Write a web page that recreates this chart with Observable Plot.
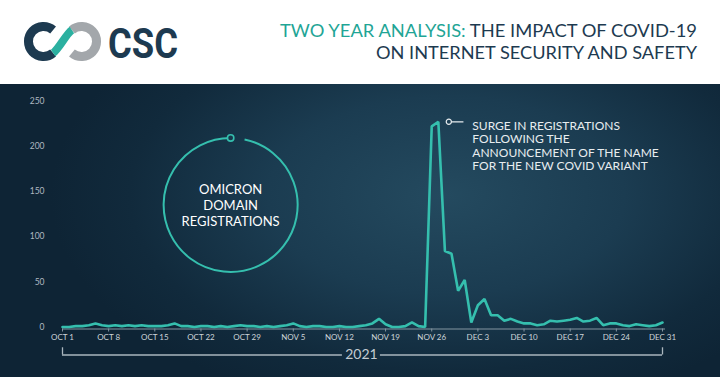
<!DOCTYPE html>
<html><head><meta charset="utf-8">
<script src="https://cdn.jsdelivr.net/npm/d3@7"></script>
<script src="https://cdn.jsdelivr.net/npm/@observablehq/plot@0.6"></script>
<style>
html,body{margin:0;padding:0;width:720px;height:377px;overflow:hidden;font-family:Lato,"Open Sans",sans-serif;background:#10283a;}
#header{position:relative;width:720px;height:84px;background:#ffffff;}
#header svg{position:absolute;left:0;top:0;}
#chart{position:relative;width:720px;height:293px;
 background:radial-gradient(ellipse 55% 75% at 62% 38%, #244a5f 0%, #1b3c51 45%, #112a3c 80%, #0e2435 100%);}
#chart svg{display:block;}
</style></head><body>
<div id="header">
<svg width="720" height="84" viewBox="0 0 720 84">
  <g transform="translate(18.5,13.5)" fill="none" stroke-linecap="butt">
    <path d="M34.6,16.5 A15,15 0 1 0 34.6,39.5" stroke="#1d3a50" stroke-width="9"/>
    <path d="M53.4,16.5 A15,15 0 1 1 53.4,39.5" stroke="#a3a7ab" stroke-width="9"/>
    <path d="M34.6,39.5 C40,36 48,20 53.4,16.5" stroke="#2bb0a0" stroke-width="8"/>
  </g>
  <text x="108" y="58" font-family="Roboto" font-weight="700" font-size="42" fill="#1d3a50" textLength="70" lengthAdjust="spacingAndGlyphs">CSC</text>
  <text x="280" y="37" font-family="Lato" font-size="17" fill="#1d3a50" textLength="417" lengthAdjust="spacingAndGlyphs"><tspan fill="#1fa596">TWO YEAR ANALYSIS:</tspan> THE IMPACT OF COVID-19</text>
  <text x="376" y="58.5" font-family="Lato" font-size="17" fill="#1d3a50" textLength="321" lengthAdjust="spacingAndGlyphs">ON INTERNET SECURITY AND SAFETY</text>
</svg>
</div>
<div id="chart"></div>
<script>
// ---- data ----
const startDate = "2021-10-01";
const values = [
  0, 0, 1, 1, 2, 4, 2, 1, 2, 1,
  2, 1, 2, 1, 1, 1, 2, 4, 1, 1,
  0, 1, 1, 0, 1, 0, 1, 2, 1, 1,
  0, 1, 0, 1, 2, 4, 1, 0, 1, 1,
  0, 0, 1, 0, 0, 1, 2, 4, 9, 3,
  0, 0, 1, 5, 1, 0, 222, 227, 84, 81,
  40, 52, 5, 24, 31, 13, 13, 7, 9, 6,
  4, 4, 2, 3, 7, 6, 7, 8, 10, 6,
  7, 10, 2, 4, 4, 2, 1, 3, 2, 1,
  2, 5
];
const tickDates = ["2021-10-01","2021-10-08","2021-10-15","2021-10-22","2021-10-29","2021-11-05","2021-11-12",
                   "2021-11-19","2021-11-26","2021-12-03","2021-12-10","2021-12-17","2021-12-24","2021-12-31"];
const tickLabels = ["OCT 1","OCT 8","OCT 15","OCT 22","OCT 29","NOV 5","NOV 12",
                    "NOV 19","NOV 26","DEC 3","DEC 10","DEC 17","DEC 24","DEC 31"];
const yTicks = [0, 50, 100, 150, 200, 250];
const circleLabel = ["OMICRON", "DOMAIN", "REGISTRATIONS"];
const surgeLabel = ["SURGE IN REGISTRATIONS", "FOLLOWING THE", "ANNOUNCEMENT OF THE NAME", "FOR THE NEW COVID VARIANT"];
const yearLabel = "2021";
const yearSpan = ["2021-10-01", "2021-12-31"];
const yearLabelAt = "2021-11-15T08:00Z";
const circleAt = {date: "2021-10-26T12:00Z", value: 135};
const peakAt = {date: "2021-11-27", value: 227};

// ---- build ----
const teal = "#35bfae";
const start = new Date(startDate);
const series = values.map((v, i) => ({date: d3.utcDay.offset(start, i), value: v}));
const ticks = tickDates.map(d => new Date(d));
const labelMap = new Map(ticks.map((d, i) => [+d, tickLabels[i]]));
const y0 = new Date(yearSpan[0]), y1 = new Date(yearSpan[1]), yl = new Date(yearLabelAt);

const ringSymbol = {
  draw(ctx, size) {
    const r = Math.sqrt(size / Math.PI);
    const a0 = -Math.PI / 2, a1 = -78 * Math.PI / 180;
    ctx.moveTo(r * Math.cos(a0), r * Math.sin(a0));
    ctx.arc(0, 0, r, a0, a1, true);
  }
};
const pinSymbol = {
  draw(ctx, size) {
    const r = Math.sqrt(size / Math.PI);
    ctx.moveTo(r, 0);
    ctx.arc(0, 0, r, 0, 2 * Math.PI);
    ctx.moveTo(r, 0);
    ctx.lineTo(r + 12, 0);
  }
};

const plot = Plot.plot({
  width: 720, height: 293,
  marginTop: 16.5, marginBottom: 50.5, marginLeft: 62, marginRight: 58,
  style: {background: "transparent", fontFamily: "Lato, sans-serif", color: "#c9d1d7", overflow: "visible"},
  x: {type: "utc", domain: [y0, y1]},
  y: {domain: [0, 250]},
  marks: [
    Plot.axisY(yTicks, {tickSize: 0, tickPadding: 18, fill: "#aeb9c0", fontSize: 8.5, label: null}),
    Plot.ruleY([0], {x1: y0, x2: y1, dy: 2, stroke: "#8495a1", strokeWidth: 1.2, insetRight: -3}),
    Plot.axisX(ticks, {tickFormat: d => labelMap.get(+d), tickSize: 3, tickPadding: 2, dy: 2,
                       stroke: "#8495a1", fill: "#cdd4d9", fontSize: 8, label: null}),
    Plot.lineY(series, {x: "date", y: "value", stroke: teal, strokeWidth: 2.6, strokeLinejoin: "miter"}),
    // year bracket
    Plot.ruleY([0], {x1: y0, x2: yl, dy: 28, insetRight: 19, stroke: "#aab6be", strokeWidth: 1.3}),
    Plot.ruleY([0], {x1: yl, x2: y1, dy: 28, insetLeft: 19, stroke: "#aab6be", strokeWidth: 1.3}),
    Plot.ruleX([y0, y1], {y1: 0, y2: 8, dy: 28, stroke: "#aab6be", strokeWidth: 1.3}),
    Plot.text([yearLabel], {x: yl, y: 0, dy: 28, text: d => d, fill: "#c3ccd2", fontSize: 14}),
    // circle annotation
    Plot.dot([circleAt], {x: d => new Date(d.date), y: "value", r: 67, symbol: ringSymbol, stroke: teal, strokeWidth: 2, fill: "none"}),
    Plot.dot([circleAt], {x: d => new Date(d.date), y: "value", dy: -67, r: 3.2, stroke: teal, strokeWidth: 1.6, fill: "#18374b"}),
    Plot.text([circleLabel.join("\n")], {x: new Date(circleAt.date), y: circleAt.value, text: d => d, fill: "#ffffff",
              fontSize: 13, lineHeight: 1.2, lineAnchor: "middle", dy: 0}),
    // surge annotation
    Plot.dot([peakAt], {x: d => new Date(d.date), y: "value", dx: 10.5, r: 2.6, symbol: pinSymbol, stroke: "#e6ebee", strokeWidth: 1.2, fill: "none"}),
    Plot.text([surgeLabel.join("\n")], {x: new Date(peakAt.date), y: peakAt.value, text: d => d, dx: 34, dy: -1.5,
              textAnchor: "start", lineAnchor: "top", fill: "#e8edf0", fontSize: 12, lineHeight: 1.125})
  ]
});
document.getElementById("chart").appendChild(plot);
</script>
</body></html>
